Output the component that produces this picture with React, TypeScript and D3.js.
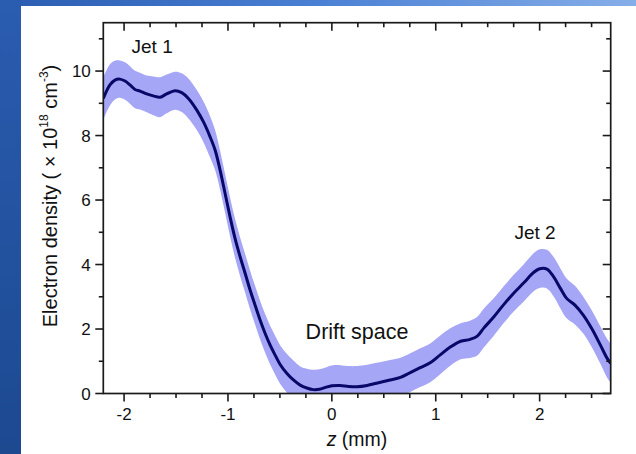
import React from "react";
import * as d3 from "d3";

// ---- data ----
const zVals = [-2.2, -2.136, -2.088, -2.04, -1.991, -1.943, -1.895, -1.847, -1.782, -1.719, -1.654, -1.59, -1.51, -1.445, -1.381, -1.3, -1.237, -1.172, -1.124, -1.076, -1.028, -0.98, -0.932, -0.883, -0.835, -0.787, -0.739, -0.691, -0.643, -0.594, -0.546, -0.498, -0.434, -0.37, -0.305, -0.241, -0.18, -0.12, -0.06, 0, 0.08, 0.16, 0.24, 0.34, 0.43, 0.56, 0.66, 0.75, 0.85, 0.95, 1.04, 1.14, 1.24, 1.33, 1.4, 1.46, 1.56, 1.65, 1.75, 1.85, 1.94, 2.0, 2.07, 2.135, 2.2, 2.26, 2.34, 2.42, 2.5, 2.585, 2.65, 2.684];
const density = [9.15, 9.57, 9.72, 9.75, 9.69, 9.57, 9.43, 9.38, 9.29, 9.23, 9.19, 9.29, 9.39, 9.33, 9.15, 8.79, 8.43, 7.96, 7.55, 6.93, 6.21, 5.48, 4.81, 4.24, 3.73, 3.21, 2.74, 2.28, 1.87, 1.5, 1.19, 0.9, 0.63, 0.42, 0.26, 0.17, 0.12, 0.13, 0.19, 0.24, 0.25, 0.22, 0.21, 0.25, 0.32, 0.42, 0.5, 0.64, 0.8, 0.96, 1.19, 1.44, 1.62, 1.68, 1.78, 2.02, 2.38, 2.74, 3.11, 3.44, 3.75, 3.87, 3.86, 3.62, 3.26, 2.95, 2.74, 2.43, 2.02, 1.5, 1.09, 0.94];
const errVals = [0.65, 0.64, 0.6, 0.58, 0.58, 0.58, 0.58, 0.57, 0.57, 0.6, 0.62, 0.6, 0.59, 0.6, 0.62, 0.62, 0.63, 0.64, 0.62, 0.6, 0.6, 0.6, 0.6, 0.6, 0.6, 0.6, 0.6, 0.6, 0.6, 0.6, 0.6, 0.6, 0.6, 0.6, 0.58, 0.6, 0.62, 0.62, 0.62, 0.63, 0.63, 0.63, 0.64, 0.64, 0.63, 0.62, 0.61, 0.6, 0.6, 0.6, 0.6, 0.58, 0.56, 0.58, 0.6, 0.6, 0.58, 0.57, 0.57, 0.58, 0.59, 0.6, 0.6, 0.61, 0.62, 0.62, 0.6, 0.57, 0.57, 0.58, 0.6, 0.6];

const xMajorTicks = [-2, -1, 0, 1, 2];
const xMinorTicks = [-1.75, -1.5, -1.25, -0.75, -0.5, -0.25, 0.25, 0.5, 0.75, 1.25, 1.5, 1.75, 2.25, 2.5];
const yMajorTicks = [0, 2, 4, 6, 8, 10];
const yMinorTicks = [1, 3, 5, 7, 9, 11];

const annotations = [
  { text: "Jet 1", z: -1.73, v: 10.55, size: 19 },
  { text: "Jet 2", z: 1.956, v: 4.78, size: 19 },
  { text: "Drift space", z: 0.242, v: 1.68, size: 21.5 },
];

// ---- layout ----
const W = 636;
const H = 454;
const PL = 103.3;
const PR = 610.7;
const PT = 22.7;
const PB = 393.5;
const FONT = "'Liberation Sans', Arial, Helvetica, sans-serif";
const AXIS = "#1a1a1a";

export default function App() {
  const x = d3.scaleLinear().domain([-2.2, 2.684]).range([PL, PR]);
  const y = d3.scaleLinear().domain([0, 11.5]).range([PB, PT]);

  const pts = zVals.map((z, i) => ({ z, v: density[i], e: errVals[i] }));
  const line = d3
    .line<any>()
    .x((d) => x(d.z))
    .y((d) => y(d.v))
    .curve(d3.curveCatmullRom.alpha(0.5));
  const area = d3
    .area<any>()
    .x((d) => x(d.z))
    .y0((d) => y(d.v - d.e))
    .y1((d) => y(d.v + d.e))
    .curve(d3.curveCatmullRom.alpha(0.5));

  const MAJ = 8;
  const MIN = 4.5;

  return (
    <div style={{ position: "absolute", left: 0, top: 0, width: W, height: H }}>
      <svg width={W} height={H} style={{ display: "block" }}>
        <defs>
          <linearGradient id="topGrad" x1="0" y1="0" x2="1" y2="0">
            <stop offset="0" stopColor="#2a5cb0" />
            <stop offset="0.5" stopColor="#4a80d4" />
            <stop offset="1" stopColor="#86aee8" />
          </linearGradient>
          <linearGradient id="leftGrad" x1="0" y1="0" x2="0" y2="1">
            <stop offset="0" stopColor="#2a5cb0" />
            <stop offset="1" stopColor="#1c4990" />
          </linearGradient>
          <clipPath id="plotClip">
            <rect x={PL} y={PT} width={PR - PL} height={PB - PT} />
          </clipPath>
        </defs>
        <rect x={0} y={0} width={W} height={H} fill="#ffffff" />
        <rect x={0} y={0} width={W} height={6} fill="url(#topGrad)" />
        <rect x={0} y={0} width={21} height={H} fill="url(#leftGrad)" />

        <g clipPath="url(#plotClip)">
          <path d={area(pts) || ""} fill="#a6a6f6" stroke="none" />
          <path d={line(pts) || ""} fill="none" stroke="#080868" strokeWidth={3} strokeLinejoin="round" />
        </g>

        {/* frame */}
        <rect x={PL} y={PT} width={PR - PL} height={PB - PT} fill="none" stroke={AXIS} strokeWidth={1.7} />

        {/* x ticks bottom (outward) and top (inward) */}
        {xMajorTicks.map((t) => (
          <g key={"xM" + t}>
            <line x1={x(t)} x2={x(t)} y1={PB} y2={PB + MAJ} stroke={AXIS} strokeWidth={1.6} />
            <line x1={x(t)} x2={x(t)} y1={PT} y2={PT + MAJ} stroke={AXIS} strokeWidth={1.6} />
            <text x={x(t)} y={PB + 26.5} textAnchor="middle" fontFamily={FONT} fontSize={17} fill="#111">
              {String(t)}
            </text>
          </g>
        ))}
        {xMinorTicks.map((t) => (
          <g key={"xm" + t}>
            <line x1={x(t)} x2={x(t)} y1={PB} y2={PB + MIN} stroke={AXIS} strokeWidth={1.6} />
            <line x1={x(t)} x2={x(t)} y1={PT} y2={PT + MIN} stroke={AXIS} strokeWidth={1.6} />
          </g>
        ))}

        {/* y ticks left (outward) and right (inward) */}
        {yMajorTicks.map((t) => (
          <g key={"yM" + t}>
            <line x1={PL - MAJ} x2={PL} y1={y(t)} y2={y(t)} stroke={AXIS} strokeWidth={1.6} />
            <line x1={PR - MAJ} x2={PR} y1={y(t)} y2={y(t)} stroke={AXIS} strokeWidth={1.6} />
            <text x={PL - 12.5} y={y(t)} dy="0.36em" textAnchor="end" fontFamily={FONT} fontSize={17} fill="#111">
              {String(t)}
            </text>
          </g>
        ))}
        {yMinorTicks.map((t) => (
          <g key={"ym" + t}>
            <line x1={PL - MIN} x2={PL} y1={y(t)} y2={y(t)} stroke={AXIS} strokeWidth={1.6} />
            <line x1={PR - MIN} x2={PR} y1={y(t)} y2={y(t)} stroke={AXIS} strokeWidth={1.6} />
          </g>
        ))}

        {/* annotations */}
        {annotations.map((a) => (
          <text key={a.text} x={x(a.z)} y={y(a.v)} textAnchor="middle" fontFamily={FONT} fontSize={a.size} fill="#111">
            {a.text}
          </text>
        ))}

        {/* x axis title */}
        <text x={(PL + PR) / 2} y={446} textAnchor="middle" fontFamily={FONT} fontSize={19.5} fill="#111">
          <tspan fontStyle="italic">z</tspan>
          <tspan> (mm)</tspan>
        </text>

        {/* y axis title */}
        <text
          transform={`translate(56.5, 196) rotate(-90)`}
          textAnchor="middle"
          fontFamily={FONT}
          fontSize={20}
          fill="#111"
        >
          <tspan>Electron density ( × 10</tspan>
          <tspan fontSize={12} dy={-9}>18</tspan>
          <tspan dy={9}> cm</tspan>
          <tspan fontSize={12} dy={-9}>-3</tspan>
          <tspan dy={9}>)</tspan>
        </text>
      </svg>
    </div>
  );
}
